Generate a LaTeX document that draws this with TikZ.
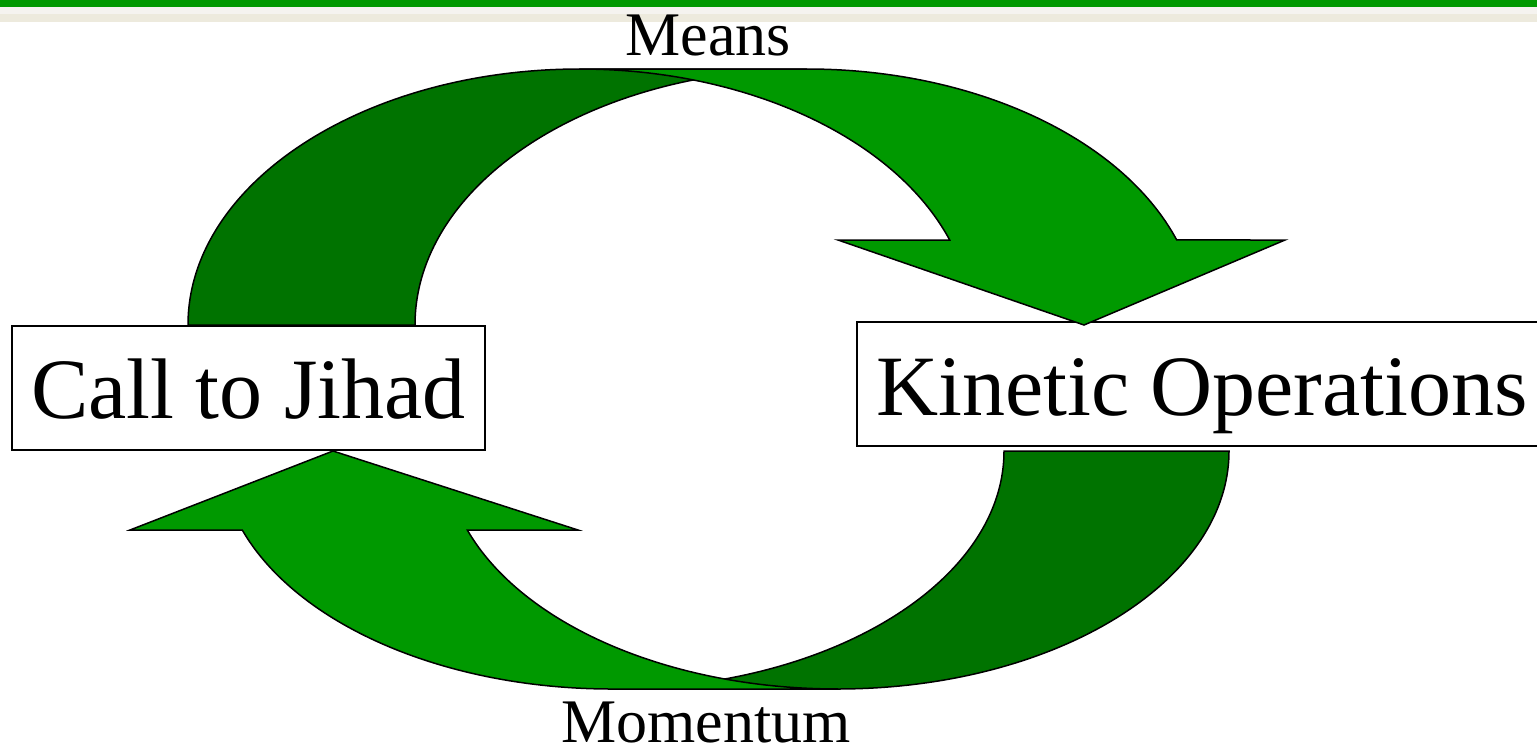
\documentclass[tikz,border=0pt]{standalone}
\usepackage{fontspec}
\setmainfont{Liberation Serif}
\definecolor{bandgreen}{HTML}{009900}
\definecolor{bandlight}{HTML}{F5F3EF}
\definecolor{bandbeige}{HTML}{EDEADD}
\definecolor{arrowlight}{HTML}{009900}
\definecolor{arrowdark}{HTML}{007300}
\begin{document}
\begin{tikzpicture}[x=0.5pt,y=-0.5pt,
  labelbox/.style={draw=black, line width=1pt, fill=white, inner sep=0pt,
    minimum height=62pt, font=\fontsize{43}{50}\selectfont, text depth=0pt},
  bandlabel/.style={anchor=base, inner sep=0pt, font=\fontsize{31}{36}\selectfont},
  backband/.style={fill=arrowdark, draw=black, line width=0.75pt, line join=miter},
  frontband/.style={fill=arrowlight, draw=black, line width=0.75pt, line join=miter}]
\useasboundingbox (0,0) rectangle (1537,751);
% top bands
\fill[bandgreen] (0,0) rectangle (1537,6.5);
\fill[bandlight] (0,6.5) rectangle (1537,14);
\fill[bandbeige] (0,14) rectangle (1537,22);
% boxes
\node[labelbox, minimum width=236.5pt, text height=30pt] (call) at (248.5,388) {Call to Jihad};
\node[labelbox, minimum width=345pt, text height=31pt] (kin) at (1202,384) {Kinetic Operations};
% upper curved arrow (Means)
\path[backband] (188,325) arc[start angle=180, end angle=90, x radius=196pt, y radius=128pt]
  -- (807,69) arc[start angle=90, end angle=180, x radius=196pt, y radius=128pt] -- cycle;
\path[frontband] (580,69) -- (807,69)
  arc[start angle=90, end angle=19.4, x radius=196pt, y radius=128pt]
  -- (1285,240) -- (1084,325) -- (838,240) -- (949.7,240)
  arc[start angle=19.4, end angle=90, x radius=196pt, y radius=128pt] -- cycle;
% lower curved arrow (Momentum)
\path[backband] (1229,451) arc[start angle=0, end angle=-90, x radius=196pt, y radius=119pt]
  -- (612,689) arc[start angle=-90, end angle=0, x radius=196pt, y radius=119pt] -- cycle;
\path[frontband] (837,689) -- (612,689)
  arc[start angle=270, end angle=199.4, x radius=196pt, y radius=119pt]
  -- (130,530) -- (333,451) -- (578,530) -- (467.3,530)
  arc[start angle=199.4, end angle=270, x radius=196pt, y radius=119pt] -- cycle;
% labels
\node[bandlabel] (means) at (708,55) {Means};
\node[bandlabel] (momentum) at (706,742) {Momentum};
\end{tikzpicture}
\end{document}
